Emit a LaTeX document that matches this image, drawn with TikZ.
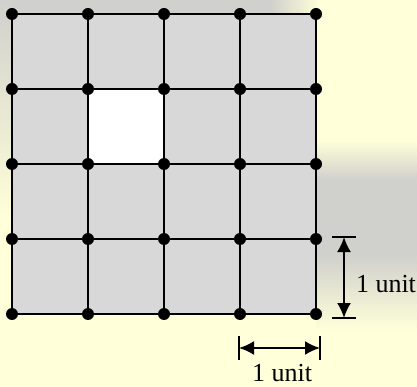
\documentclass[tikz,border=0pt]{standalone}
\usepackage{fontspec}
\setmainfont{Liberation Serif}
\usetikzlibrary{arrows.meta}
\definecolor{paper}{RGB}{255,255,217}
\definecolor{haze}{RGB}{208,208,205}
\definecolor{cell}{RGB}{216,216,216}
\begin{document}
\begin{tikzpicture}[x=1pt,y=-1pt,line width=2pt,
    dot/.style={circle,fill=black,inner sep=0pt,minimum size=12pt},
    dim/.style={{Latex[length=15pt,width=14pt]}-{Latex[length=15pt,width=14pt]}},
    lab/.style={inner sep=0pt,font=\fontsize{26}{31}\selectfont}]
\useasboundingbox (0,0) rectangle (417,387);
% backdrop
\fill[paper] (0,0) rectangle (417,387);
\fill[haze] (0,0) rectangle (270,14);
\shade[left color=haze,right color=paper] (270,0) rectangle (320,14);
\shade[top color=haze,bottom color=paper] (0,0) rectangle (12,220);
\shade[top color=paper,bottom color=haze] (316,140) rectangle (417,180);
\fill[haze] (316,180) rectangle (417,255);
\shade[top color=haze,bottom color=paper] (316,255) rectangle (417,330);
% squares
\fill[cell] (12,14) rectangle (316,314);
\fill[white] (88,89) rectangle (164,164);
\foreach \i in {0,...,4}
  \foreach \j in {0,...,4}
    \coordinate (p\i\j) at (12+76*\i,14+75*\j);
\foreach \i in {0,...,4} {
  \draw (p\i0) -- (p\i4);
  \draw (p0\i) -- (p4\i);
}
\foreach \i in {0,...,4}
  \foreach \j in {0,...,4}
    \node[dot] (d\i\j) at (p\i\j) {};
% 1 unit, vertical
\coordinate (vt) at (344,237);
\coordinate (vb) at (344,318);
\draw ([xshift=-12pt]vt) -- ([xshift=12pt]vt);
\draw ([xshift=-12pt]vb) -- ([xshift=12pt]vb);
\draw[dim] (vt) -- (vb);
\node[lab,anchor=base west] (vlab) at (355,292) {1 unit};
% 1 unit, horizontal
\coordinate (hl) at (239,348);
\coordinate (hr) at (320,348);
\draw ([yshift=-12pt]hl) -- ([yshift=12pt]hl);
\draw ([yshift=-12pt]hr) -- ([yshift=12pt]hr);
\draw[dim] (hl) -- (hr);
\node[lab,anchor=base] (hlab) at (282,381) {1 unit};
\end{tikzpicture}
\end{document}
